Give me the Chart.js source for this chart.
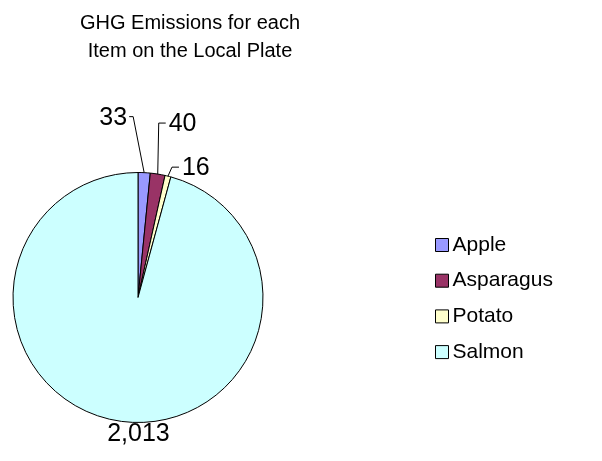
<!DOCTYPE html>
<html>
<head>
<meta charset="utf-8">
<script src="https://cdn.jsdelivr.net/npm/chart.js@4/dist/chart.umd.min.js"></script>
<style>
  html, body { margin: 0; padding: 0; background: #ffffff; }
  canvas { display: block; }
</style>
</head>
<body>
<canvas id="chart" width="602" height="461"></canvas>
<script>
// Items on the plate and their greenhouse-gas emissions
const categories = ['Apple', 'Asparagus', 'Potato', 'Salmon'];
const emissions = [33, 40, 16, 2013];
const titleLines = ['GHG Emissions for each', 'Item on the Local Plate'];

const sliceColors = ['#9999FF', '#993366', '#FFFFCC', '#CCFFFF'];
const FONT = '"Liberation Sans", Arial, Helvetica, sans-serif';

// Leader-line geometry for each slice label, relative to the slice's outer edge.
// elbow: offset of the bend point; run: horizontal segment; side: text side.
const leaderStyle = [
  { elbow: [-11, -56], run: -4, side: 'left' },
  { elbow: [1, -51], run: 7, side: 'right' },
  { elbow: [4, -9], run: 7, side: 'right' },
  { elbow: null, text: [17, 13] }
];

const sliceLabels = {
  id: 'sliceLabels',
  afterDatasetsDraw(chart) {
    const ctx = chart.ctx;
    const meta = chart.getDatasetMeta(0);
    const values = chart.data.datasets[0].data;
    ctx.save();
    ctx.font = '25px ' + FONT;
    ctx.fillStyle = '#000';
    ctx.strokeStyle = '#000';
    ctx.lineWidth = 1;
    meta.data.forEach((arc, i) => {
      const p = arc.getProps(['x', 'y', 'startAngle', 'endAngle', 'outerRadius'], true);
      const mid = (p.startAngle + p.endAngle) / 2;
      const ex = p.x + Math.cos(mid) * p.outerRadius;
      const ey = p.y + Math.sin(mid) * p.outerRadius;
      const text = values[i].toLocaleString('en-US');
      const st = leaderStyle[i];
      if (st.elbow) {
        const bx = ex + st.elbow[0];
        const by = ey + st.elbow[1];
        const hx = bx + st.run;
        ctx.beginPath();
        ctx.moveTo(ex, ey);
        ctx.lineTo(bx, by);
        ctx.lineTo(hx, by);
        ctx.stroke();
        ctx.textBaseline = 'middle';
        if (st.side === 'left') {
          ctx.textAlign = 'right';
          ctx.fillText(text, hx - 2, by + 1);
        } else {
          ctx.textAlign = 'left';
          ctx.fillText(text, hx + 3, by + 1);
        }
      } else {
        ctx.textAlign = 'center';
        ctx.textBaseline = 'middle';
        ctx.fillText(text, ex + st.text[0], ey + st.text[1]);
      }
    });
    ctx.restore();
  }
};

// Places the legend block to the right of the pie after layout
const legendPlacement = {
  id: 'legendPlacement',
  afterLayout(chart) {
    const lg = chart.legend;
    if (!lg) return;
    const pad = lg.options.labels.padding;
    const dx = (442 - pad) - lg.left;
    const dy = (234.5 - pad) - lg.top;
    lg.left += dx;
    lg.top += dy; lg.bottom += dy;
    lg.right = lg.left + 170;
  }
};

new Chart(document.getElementById('chart'), {
  type: 'pie',
  data: {
    labels: categories,
    datasets: [{
      data: emissions,
      backgroundColor: sliceColors,
      borderColor: '#000000',
      borderWidth: 1
    }]
  },
  options: {
    responsive: false,
    animation: false,
    devicePixelRatio: 1,
    radius: 125,
    layout: { padding: { left: 0, right: 222, top: 0, bottom: 0 } },
    plugins: {
      title: {
        display: true,
        text: titleLines,
        color: '#000000',
        font: { family: FONT, size: 20, weight: 'normal', lineHeight: 1.4 },
        padding: { top: 9, bottom: 69 }
      },
      legend: {
        display: true,
        position: 'right',
        align: 'start',
        maxWidth: 104,
        labels: {
          color: '#000000',
          font: { family: FONT, size: 21 },
          usePointStyle: true,
          pointStyle: 'rect',
          boxWidth: 0.01,
          boxHeight: 13,
          padding: 14.7
        }
      },
      tooltip: { enabled: false }
    }
  },
  plugins: [sliceLabels, legendPlacement]
});
</script>
</body>
</html>
